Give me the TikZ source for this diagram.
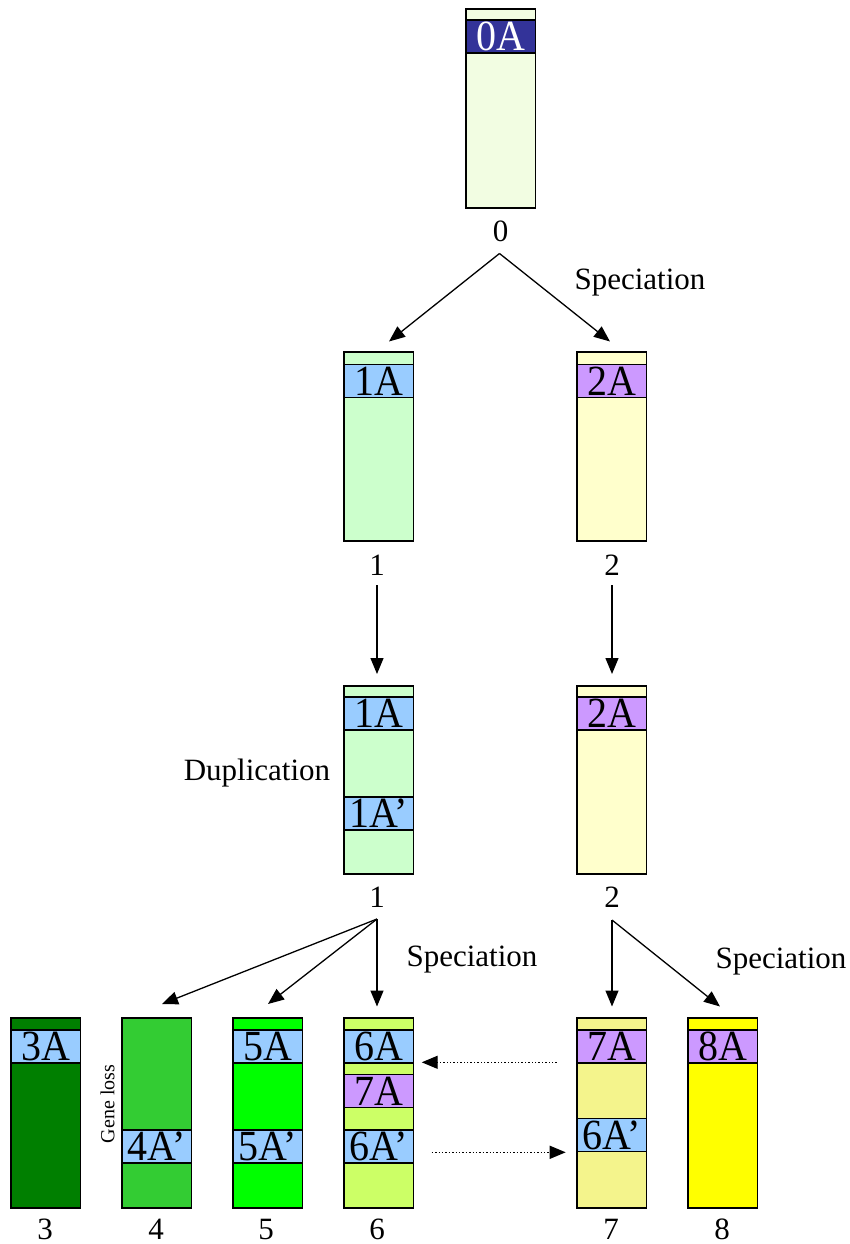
\documentclass[tikz,border=0pt]{standalone}
\usepackage{fontspec}
\setmainfont{Liberation Serif}
\usetikzlibrary{arrows.meta}

\definecolor{anc}{HTML}{F2FDE2}
\definecolor{gnavy}{HTML}{333399}
\definecolor{gblue}{HTML}{99CCFF}
\definecolor{gviolet}{HTML}{CC99FF}
\definecolor{spA}{HTML}{CCFFCC}
\definecolor{spB}{HTML}{FFFFCC}
\definecolor{sp3}{HTML}{007F00}
\definecolor{sp4}{HTML}{33CC33}
\definecolor{sp5}{HTML}{00FF00}
\definecolor{sp6}{HTML}{CCFF66}
\definecolor{sp7}{HTML}{F4F48C}
\definecolor{sp8}{HTML}{FFFF00}

% gene names are set tall and slightly narrow
\newcommand{\genename}[1]{\scalebox{0.93}[1]{#1}}

\tikzset{
  chrom/.style={draw=black, line width=1.5pt, minimum width=69.5pt, inner sep=0pt},
  gene/.style={draw=black, line width=1.5pt, minimum width=69.5pt, minimum height=33pt,
    inner sep=0pt, font=\fontsize{43}{43}\selectfont},
  lbl/.style={inner sep=0pt, font=\fontsize{31}{31}\selectfont},
  arr/.style={line width=1.3pt, -{Triangle[length=16pt,width=13pt]}},
  darr/.style={line width=1.4pt, dotted, -{Triangle[length=16pt,width=13pt]}}
}

\begin{document}
\begin{tikzpicture}[x=1pt,y=-1pt]
\useasboundingbox[fill=white] (0,0) rectangle (850,1244);

% ancestral chromosome 0
\node[chrom, fill=anc, minimum height=199pt] (c0) at (500.5,108.5) {};
\node[gene, fill=gnavy, text=white] (g0) at (500.5,36.5) {\genename{0A}};
\node[lbl] (l0) at (500.5,231) {0};

% after the first speciation
\node[chrom, fill=spA, minimum height=189pt] (c1a) at (378.5,446.5) {};
\node[gene, fill=gblue] (g1a) at (378.5,381) {\genename{1A}};
\node[lbl] (l1a) at (377,565) {1};
\node[chrom, fill=spB, minimum height=189pt] (c2a) at (611.5,446.5) {};
\node[gene, fill=gviolet] (g2a) at (611.5,381) {\genename{2A}};
\node[lbl] (l2a) at (612,565) {2};

% duplication in lineage 1
\node[chrom, fill=spA, minimum height=188pt] (c1b) at (378.5,780) {};
\node[gene, fill=gblue] (g1b) at (378.5,713.5) {\genename{1A}};
\node[gene, fill=gblue] (g1bp) at (378.5,813.5) {\genename{1A’}};
\node[lbl] (l1b) at (377,897) {1};
\node[chrom, fill=spB, minimum height=188pt] (c2b) at (611.5,780) {};
\node[gene, fill=gviolet] (g2b) at (611.5,713.5) {\genename{2A}};
\node[lbl] (l2b) at (612,897) {2};

% descendant species 3--8
\node[chrom, fill=sp3, minimum height=190pt] (c3) at (45.8,1113) {};
\node[gene, fill=gblue] (g3) at (45.8,1046.5) {\genename{3A}};
\node[chrom, fill=sp4, minimum height=190pt] (c4) at (156.5,1113) {};
\node[gene, fill=gblue] (g4p) at (156.5,1146.5) {\genename{4A’}};
\node[chrom, fill=sp5, minimum height=190pt] (c5) at (267.8,1113) {};
\node[gene, fill=gblue] (g5) at (267.8,1046.5) {\genename{5A}};
\node[gene, fill=gblue] (g5p) at (267.8,1146.5) {\genename{5A’}};
\node[chrom, fill=sp6, minimum height=190pt] (c6) at (378.8,1113) {};
\node[gene, fill=gblue] (g6) at (378.8,1046.5) {\genename{6A}};
\node[gene, fill=gviolet] (g6x) at (378.8,1091) {\genename{7A}};
\node[gene, fill=gblue] (g6p) at (378.8,1146.5) {\genename{6A’}};
\node[chrom, fill=sp7, minimum height=190pt] (c7) at (611.7,1113) {};
\node[gene, fill=gviolet] (g7) at (611.7,1046.5) {\genename{7A}};
\node[gene, fill=gblue] (g7x) at (611.7,1135) {\genename{6A’}};
\node[chrom, fill=sp8, minimum height=190pt] (c8) at (722.8,1113) {};
\node[gene, fill=gviolet] (g8) at (722.8,1046.5) {\genename{8A}};

\foreach \n/\x in {3/45,4/156,5/266,6/377,7/611,8/722}
  \node[lbl] (l\n) at (\x,1229) {\n};

% event labels
\node[lbl] (sp1) at (640,283) {Speciation};
\node[lbl] (dup) at (257,773) {Duplication};
\node[lbl] (sp2) at (472,960) {Speciation};
\node[lbl] (sp3t) at (781,962) {Speciation};
\node[inner sep=0pt, rotate=90, font=\fontsize{20}{20}\selectfont] (loss) at (107.5,1104) {Gene loss};

% branch points and arrow ends
\coordinate (b0) at (499.5,253.5);
\coordinate (t1) at (389,341.5);
\coordinate (t2) at (610,341.5);
\coordinate (s1) at (377,585);
\coordinate (e1) at (377,674);
\coordinate (s2) at (612,585);
\coordinate (e2) at (612,674);
\coordinate (b1) at (377,919);
\coordinate (t4) at (162,1004);
\coordinate (t5) at (268,1004);
\coordinate (t6) at (377,1006.5);
\coordinate (b2) at (612,920);
\coordinate (t7) at (612,1006.5);
\coordinate (t8) at (720,1006.5);
\coordinate (d1s) at (556.7,1062.3);
\coordinate (d1e) at (421.7,1062.3);
\coordinate (d2s) at (431.7,1152.3);
\coordinate (d2e) at (565.7,1152.3);

\draw[arr] (b0) -- (t1);
\draw[arr] (b0) -- (t2);
\draw[arr] (s1) -- (e1);
\draw[arr] (s2) -- (e2);
\draw[arr] (b1) -- (t4);
\draw[arr] (b1) -- (t5);
\draw[arr] (b1) -- (t6);
\draw[arr] (b2) -- (t7);
\draw[arr] (b2) -- (t8);
\draw[darr] (d1s) -- (d1e);
\draw[darr] (d2s) -- (d2e);
\end{tikzpicture}
\end{document}
